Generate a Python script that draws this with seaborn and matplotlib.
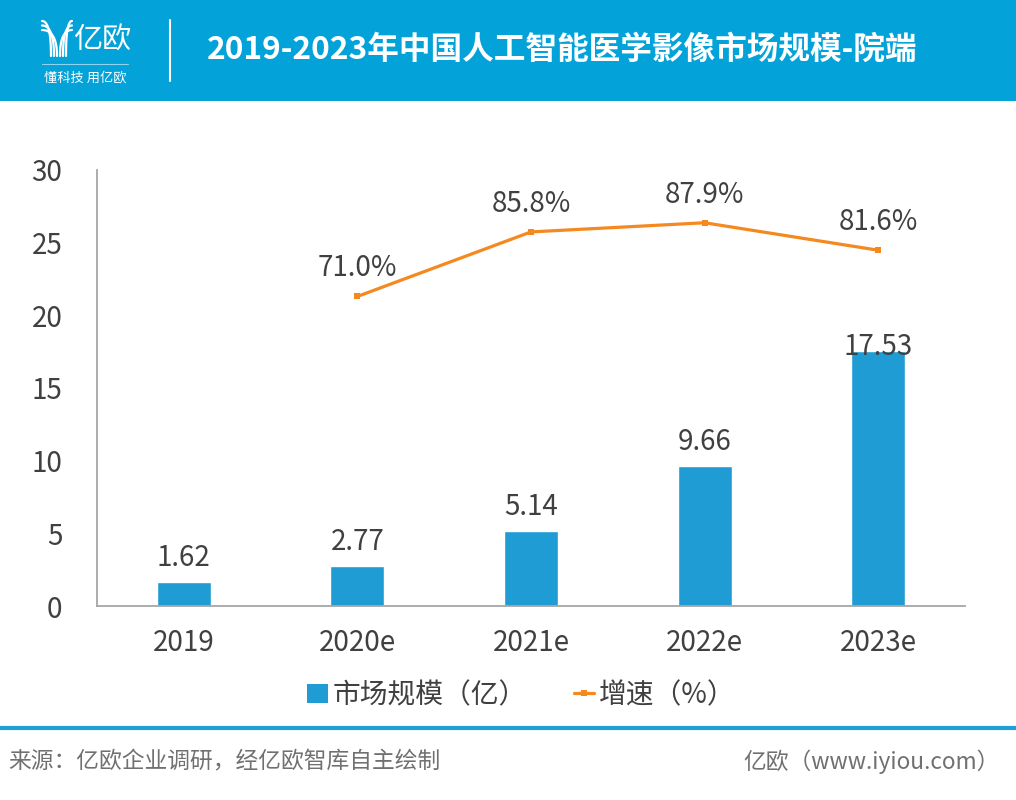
import numpy as np
import matplotlib
matplotlib.use("Agg")
import matplotlib.pyplot as plt
from matplotlib.patches import Rectangle, Patch
from matplotlib.lines import Line2D
import seaborn as sns

# ---------------- data ----------------
years = ["2019", "2020e", "2021e", "2022e", "2023e"]
market_size = [1.62, 2.77, 5.14, 9.66, 17.53]          # 市场规模（亿）
growth_years = ["2020e", "2021e", "2022e", "2023e"]
growth_rate = [71.0, 85.8, 87.9, 81.6]                 # 增速（%）
y_ticks = [0, 5, 10, 15, 20, 25, 30]

title = "2019-2023年中国人工智能医学影像市场规模-院端"
legend_labels = ["市场规模（亿）", "增速（%）"]
source_text = "来源：亿欧企业调研，经亿欧智库自主绘制"
brand_text = "亿欧（www.iyiou.com）"

# ---------------- style ----------------
sns.set_theme(style="white")
plt.rcParams["font.family"] = ["Noto Sans CJK SC", "DejaVu Sans"]

BAR_C = "#1E9CD3"
LINE_C = "#F5891F"
HEAD_C = "#03A2D9"
TXT_C = "#404040"
SPINE_C = "#A6A6A6"
FS = 20

W, H = 1016, 800
fig = plt.figure(figsize=(W / 100, H / 100), dpi=100)


def px(x, y):
    return x / W, 1 - y / H


# header band
fig.add_artist(Rectangle((0, 1 - 101 / H), 1, 101 / H, transform=fig.transFigure,
                         facecolor=HEAD_C, edgecolor="none", zorder=0))
# logo (decorative)
for k in range(3):
    t = np.linspace(0, 1, 30)
    x0, y0 = 42, 21 + 4.5 * k
    x1, y1 = 51 + 3 * k, 21 + 4.5 * k
    x2, y2 = 51 + 3 * k, 56
    bx = (1 - t) ** 2 * x0 + 2 * (1 - t) * t * x1 + t ** 2 * x2
    by = (1 - t) ** 2 * y0 + 2 * (1 - t) * t * y1 + t ** 2 * y2
    fig.add_artist(Line2D(bx / W, 1 - by / H, transform=fig.transFigure, color="white", lw=1.6))
    x0 = 72
    x1 = 66 - 3 * k
    bx = (1 - t) ** 2 * x0 + 2 * (1 - t) * t * x1 + t ** 2 * x1
    fig.add_artist(Line2D(bx / W, 1 - by / H, transform=fig.transFigure, color="white", lw=1.6))
fig.text(*px(102, 41), "亿欧", color="white", fontsize=21, ha="center", va="center",
         fontweight="light")
fig.add_artist(Line2D([42 / W, 128 / W], [1 - 64 / H, 1 - 64 / H], transform=fig.transFigure,
                      color="#8FD3EE", lw=0.8))
fig.text(*px(85, 78), "懂科技 用亿欧", color="white", fontsize=9.5, ha="center", va="center")
fig.add_artist(Line2D([170 / W, 170 / W], [1 - 20 / H, 1 - 81 / H], transform=fig.transFigure,
                      color="white", lw=1.5))
fig.text(*px(207, 50), title, color="white", fontsize=22.8, fontweight="bold",
         ha="left", va="center")

# ---------------- main axes ----------------
ax = fig.add_axes([97 / W, 1 - 606 / H, (965 - 97) / W, (606 - 170) / H])
sns.barplot(x=years, y=market_size, ax=ax, color=BAR_C, saturation=1, width=0.31,
            order=years)
ax.set_xlim(-0.5, len(years) - 0.5)
ax.set_ylim(0, 30)
ax.set_yticks(y_ticks)
ax.set_yticklabels([str(v) for v in y_ticks])
ax.set_xlabel("")
ax.set_ylabel("")
ax.tick_params(axis="y", length=0, pad=25, labelsize=FS, labelcolor=TXT_C)
ax.tick_params(axis="x", length=0, pad=16, labelsize=FS, labelcolor=TXT_C)
for s in ["top", "right"]:
    ax.spines[s].set_visible(False)
for s in ["left", "bottom"]:
    ax.spines[s].set_color(SPINE_C)
    ax.spines[s].set_linewidth(1.3)
ax.grid(False)

for i, v in enumerate(market_size):
    dy = 11.5 if v < 15 else -2.5
    ax.annotate(f"{v:.2f}", (i, v), xytext=(0, dy), textcoords="offset points",
                ha="center", va="baseline", fontsize=FS, color=TXT_C)

# secondary axis for growth line
ax2 = ax.twinx()
gx = [years.index(y) for y in growth_years]
sns.lineplot(x=gx, y=growth_rate, ax=ax2, color=LINE_C, lw=2.3, marker="s",
             markersize=4.5, markeredgewidth=0, markerfacecolor=LINE_C)
ax2.set_ylim(0, 100)
ax2.set_xlim(-0.5, len(years) - 0.5)
ax2.set_yticks([])
ax2.set_ylabel("")
for s in ax2.spines.values():
    s.set_visible(False)
for x, g in zip(gx, growth_rate):
    ax2.annotate(f"{g:.1f}%", (x, g), xytext=(0, 14.5), textcoords="offset points",
                 ha="center", va="baseline", fontsize=FS, color=TXT_C)

# legend
handles = [Patch(facecolor=BAR_C, edgecolor="none"),
           Line2D([], [], color=LINE_C, lw=2.3, marker="s", markersize=4.5,
                  markeredgewidth=0)]
fig.legend(handles, legend_labels, loc="center", bbox_to_anchor=(0.513, 1 - 695 / H),
           ncol=2, frameon=False, fontsize=FS, handlelength=0.75, handleheight=0.7,
           handletextpad=0.15, columnspacing=1.7, labelcolor=TXT_C)

# footer
fig.add_artist(Line2D([0, 1], [1 - 728 / H, 1 - 728 / H], transform=fig.transFigure,
                      color="#1FA0D8", lw=3))
fig.text(*px(8, 762), source_text, color="#707070", fontsize=16.4, ha="left", va="center")
fig.text(*px(1000, 762), brand_text, color="#707070", fontsize=16.4, ha="right", va="center")

fig.savefig("out.png", dpi=100)
